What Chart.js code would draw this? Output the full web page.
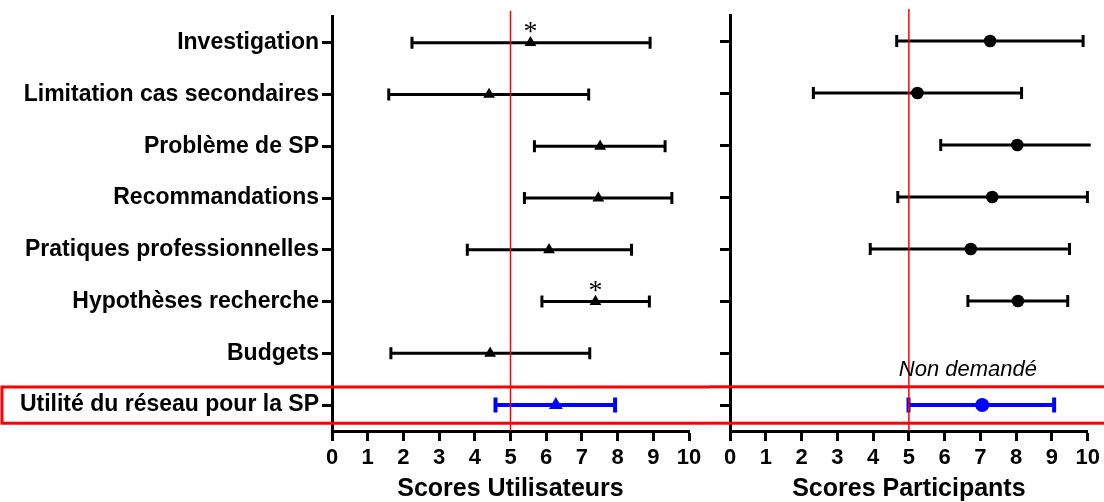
<!DOCTYPE html>
<html>
<head>
<meta charset="utf-8">
<script src="https://cdn.jsdelivr.net/npm/chart.js@4.4.0/dist/chart.umd.min.js"></script>
<style>
  html, body { margin: 0; padding: 0; background: #fff; }
  #wrap { position: relative; width: 1104px; height: 502px; overflow: hidden; background: #fff; }
  canvas { position: absolute; top: 0; }
  #left { left: 0; }
  #right { left: 710px; }
</style>
</head>
<body>
<div id="wrap">
  <canvas id="left" width="710" height="502"></canvas>
  <canvas id="right" width="394" height="502"></canvas>
</div>
<script>
// --- data ---
const categories = [
    'Investigation',
    'Limitation cas secondaires',
    'Problème de SP',
    'Recommandations',
    'Pratiques professionnelles',
    'Hypothèses recherche',
    'Budgets',
    'Utilité du réseau pour la SP'
];
const xTicks = [0, 1, 2, 3, 4, 5, 6, 7, 8, 9, 10];

// Scores Utilisateurs (mean, low, high)
const userMean = [5.56, 4.40, 7.51, 7.46, 6.08, 7.38, 4.43, 6.27];
const userLow  = [2.24, 1.59, 5.67, 5.39, 3.79, 5.88, 1.65, 4.58];
const userHigh = [8.91, 7.19, 9.33, 9.52, 8.39, 8.89, 7.22, 7.93];

// Scores Participants (Budgets not asked)
const partMean = [7.27, 5.24, 8.03, 7.33, 6.73, 8.05, null, 7.05];
const partLow  = [4.66, 2.33, 5.89, 4.69, 3.92, 6.65, null, 4.99];
const partHigh = [9.87, 8.15, 10.3, 9.99, 9.49, 9.44, null, 9.06];

const userStars = [0, 5];          // rows marked with *
const referenceScore = 5;
const highlightRow = 7;
const noteText = 'Non demandé';

const BLUE = '#0000ff';
const FONT = "'Liberation Sans', Arial, sans-serif";

function rowColor(i) { return i === highlightRow ? BLUE : '#000'; }

function panelPlugin(mean, low, high, extras) {
    return {
        id: 'panel',
        beforeDatasetsDraw(chart) {
            const { ctx, chartArea, scales: { x, y } } = chart;
            ctx.save();
            ctx.beginPath();
            ctx.rect(chartArea.left - 10, 0, chartArea.right - chartArea.left + 13, chart.height);
            ctx.clip();
            mean.forEach((m, i) => {
                if (m === null) return;
                const hi = i === highlightRow;
                const yp = y.getPixelForValue(i);
                const x0 = x.getPixelForValue(low[i]);
                const x1 = x.getPixelForValue(high[i]);
                const cap = hi ? 7.5 : 6;
                ctx.strokeStyle = rowColor(i);
                ctx.lineWidth = hi ? 4 : 3;
                ctx.beginPath();
                ctx.moveTo(x0, yp); ctx.lineTo(x1, yp);
                ctx.moveTo(x0, yp - cap); ctx.lineTo(x0, yp + cap);
                ctx.moveTo(x1, yp - cap); ctx.lineTo(x1, yp + cap);
                ctx.stroke();
            });
            ctx.restore();
        },
        afterDatasetsDraw(chart) {
            const { ctx, chartArea, scales: { x, y } } = chart;
            ctx.save();
            // reference line at 5
            const xr = x.getPixelForValue(referenceScore);
            ctx.strokeStyle = '#ff0000';
            ctx.lineWidth = 1.5;
            ctx.beginPath();
            ctx.moveTo(xr, chartArea.top - 6);
            ctx.lineTo(xr, chartArea.bottom);
            ctx.stroke();
            if (extras) extras(chart);
            ctx.restore();
        },
        afterDraw(chart) {
            const { ctx, scales: { y } } = chart;
            const top = y.getPixelForValue(highlightRow - 0.35);
            const bottom = y.getPixelForValue(highlightRow + 0.35);
            const left = chart.canvas.id === 'left' ? 2 : -5;
            ctx.save();
            ctx.strokeStyle = '#ff0000';
            ctx.lineWidth = 3;
            ctx.strokeRect(left, top, chart.width + 10 - left, bottom - top);
            ctx.restore();
        }
    };
}

function yScale(showLabels, width) {
    return {
        type: 'linear',
        min: -0.5,
        max: categories.length - 0.5,
        reverse: true,
        afterBuildTicks: s => { s.ticks = categories.map((_, i) => ({ value: i })); },
        afterFit: s => { s.width = width; },
        ticks: {
            display: showLabels,
            autoSkip: false,
            callback: v => categories[v],
            font: { family: FONT, size: 23, weight: 'bold' },
            color: '#000',
            padding: 3
        },
        grid: { drawOnChartArea: false, tickLength: 10, tickWidth: 3, tickColor: '#000' },
        border: { width: 3, color: '#000' }
    };
}

function xScale(title) {
    return {
        type: 'linear',
        min: 0,
        max: 10,
        afterBuildTicks: s => { s.ticks = xTicks.map(v => ({ value: v })); },
        afterFit: s => { s.height = 71; },
        ticks: {
            autoSkip: false,
            maxRotation: 0,
            font: { family: FONT, size: 22, weight: 'bold' },
            color: '#000',
            padding: 4
        },
        grid: { drawOnChartArea: false, tickLength: 10, tickWidth: 3, tickColor: '#000' },
        border: { width: 3, color: '#000' },
        title: {
            display: true,
            text: title,
            font: { family: FONT, size: 25, weight: 'bold', lineHeight: 1.0 },
            color: '#000',
            padding: { top: 0, bottom: 0 }
        }
    };
}

function points(mean) {
    return mean
        .map((v, i) => ({ x: v, y: i }))
        .filter(p => p.x !== null);
}

function makeChart(id, mean, low, high, style, r, rHi, title, showLabels, yWidth, padRight, extras) {
    const ctx = document.getElementById(id).getContext('2d');
    return new Chart(ctx, {
        type: 'scatter',
        data: {
            datasets: [{
                data: points(mean),
                pointStyle: style,
                pointRadius: c => c.raw && c.raw.y === highlightRow ? rHi : r,
                pointBackgroundColor: c => rowColor(c.raw ? c.raw.y : 0),
                pointBorderColor: c => rowColor(c.raw ? c.raw.y : 0),
                pointBorderWidth: 0,
                showLine: false
            }]
        },
        options: {
            responsive: false,
            animation: false,
            events: [],
            layout: { padding: { top: 15, right: padRight, bottom: 0, left: 0 } },
            plugins: { legend: { display: false }, tooltip: { enabled: false } },
            scales: { x: xScale(title), y: yScale(showLabels, yWidth) }
        },
        plugins: [panelPlugin(mean, low, high, extras)]
    });
}

// Left: Scores Utilisateurs
makeChart('left', userMean, userLow, userHigh, 'triangle', 6.8, 8,
    'Scores Utilisateurs', true, 332, 21, chart => {
        const { ctx, scales: { x, y } } = chart;
        ctx.fillStyle = '#000';
        ctx.font = "28px 'Liberation Serif', 'Times New Roman', serif";
        ctx.textAlign = 'center';
        ctx.textBaseline = 'alphabetic';
        userStars.forEach(i => {
            ctx.fillText('*', x.getPixelForValue(userMean[i]), y.getPixelForValue(i) - 3);
        });
    });

// Right: Scores Participants
makeChart('right', partMean, partLow, partHigh, 'circle', 6.3, 7,
    'Scores Participants', false, 20, 14, chart => {
        const { ctx, scales: { x, y } } = chart;
        const row = partMean.indexOf(null);
        ctx.fillStyle = '#000';
        ctx.font = "italic 22px " + FONT;
        ctx.textAlign = 'center';
        ctx.textBaseline = 'middle';
        ctx.fillText(noteText, x.getPixelForValue(6.65), y.getPixelForValue(row + 0.32));
    });
</script>
</body>
</html>
